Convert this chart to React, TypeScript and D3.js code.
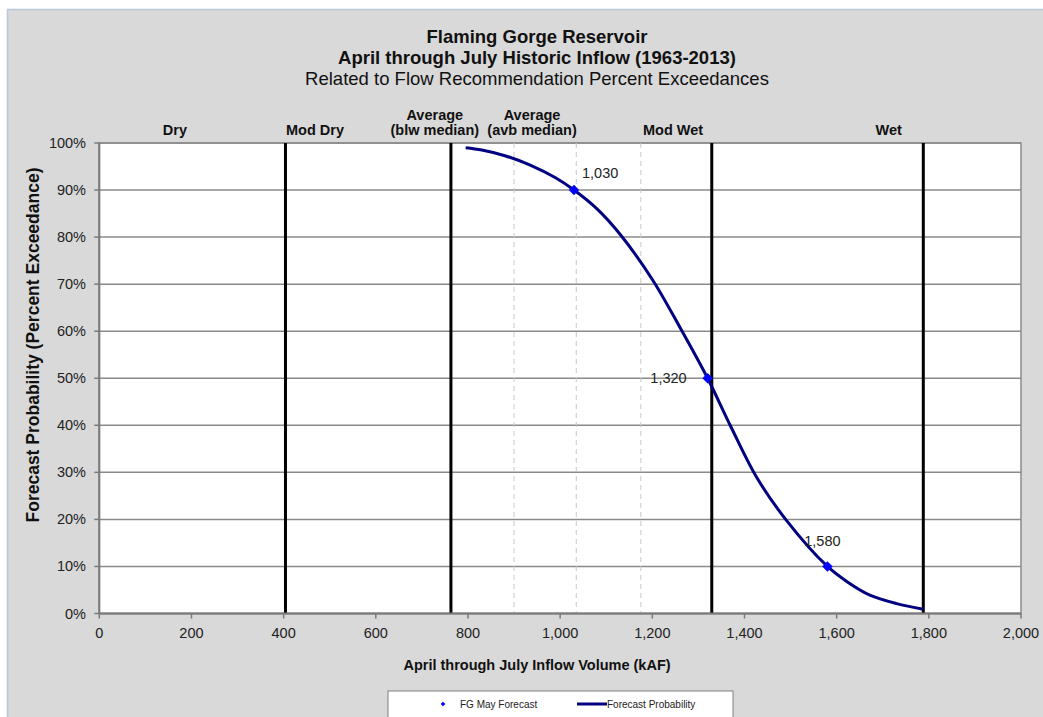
import React from "react";
import * as d3 from "d3";

const volumes = [795, 830, 880, 935, 990, 1030, 1080, 1130, 1200, 1260, 1320, 1370, 1426, 1491, 1580, 1625, 1672, 1730, 1788];
const exceed = [99, 98.5, 97.3, 95.3, 92.6, 90, 86, 80.6, 71, 60.8, 50, 39.8, 29, 19.8, 10, 6.6, 3.9, 2.1, 0.9];

const forecastVol = [1030, 1320, 1580];
const forecastPct = [90, 50, 10];
const forecastLabels = ["1,030", "1,320", "1,580"];

const boundaryVols = [404, 763, 1329, 1788];
const dashedVols = [900, 1035, 1175];

const categoryNames = [["Dry"], ["Mod Dry"], ["Average", "(blw median)"], ["Average", "(avb median)"], ["Mod Wet"], ["Wet"]];
const categoryCenters = [164, 468, 728, 939, 1245, 1713];

const xTicks = [0, 200, 400, 600, 800, 1000, 1200, 1400, 1600, 1800, 2000];
const yTicks = [0, 10, 20, 30, 40, 50, 60, 70, 80, 90, 100];

const titleLines = ["Flaming Gorge Reservoir", "April through July Historic Inflow (1963-2013)"];
const subtitle = "Related to Flow Recommendation Percent Exceedances";
const xTitle = "April through July Inflow Volume (kAF)";
const yTitle = "Forecast Probability (Percent Exceedance)";
const legendItems = ["FG May Forecast", "Forecast Probability"];

const W = 1043, H = 717;
const L = 99.3, R = 1021, T = 143, B = 613.5;
const FONT = "'Liberation Sans', Arial, sans-serif";

export default function App() {
  const x = d3.scaleLinear().domain([0, 2000]).range([L, R]);
  const y = d3.scaleLinear().domain([0, 100]).range([B, T]);
  const pts = volumes.map((v, i) => [v, exceed[i]] as [number, number]);
  const line = d3.line<[number, number]>().x(d => x(d[0])).y(d => y(d[1])).curve(d3.curveCatmullRom.alpha(0.5));
  const diamond = d3.symbol().type(d3.symbolDiamond2).size(70)() as string;
  const diamondSmall = d3.symbol().type(d3.symbolDiamond2).size(14)() as string;

  const labelPos = [
    { dx: 8, dy: -12, anchor: "start" },
    { dx: -21, dy: 5, anchor: "end" },
    { dx: -5, dy: -20, anchor: "middle" },
  ];

  return (
    <svg width={W} height={H} style={{ position: "absolute", left: 0, top: 0 }} fontFamily={FONT}>
      <rect x={0} y={0} width={W} height={H} fill="#ffffff" />
      <rect x={7} y={9} width={W - 7} height={H - 9} fill="#d9d9d9" />
      <line x1={7} y1={9.5} x2={W} y2={9.5} stroke="#b9c7dc" strokeWidth={1.5} />
      <line x1={7.5} y1={9} x2={7.5} y2={H} stroke="#b9c7dc" strokeWidth={1.5} />

      {/* titles */}
      <text x={537} y={43} textAnchor="middle" fontSize={18.5} fontWeight="bold" fill="#111">{titleLines[0]}</text>
      <text x={537} y={64} textAnchor="middle" fontSize={18.5} fontWeight="bold" fill="#111">{titleLines[1]}</text>
      <text x={537} y={85} textAnchor="middle" fontSize={18.5} fill="#111">{subtitle}</text>

      {/* plot area */}
      <rect x={L} y={T} width={R - L} height={B - T} fill="#ffffff" stroke="#8a8a8a" strokeWidth={1.5} />
      {yTicks.map(t => (
        <line key={"g" + t} x1={L} x2={R} y1={y(t)} y2={y(t)} stroke="#8a8a8a" strokeWidth={1.5} />
      ))}
      {dashedVols.map(v => (
        <line key={"d" + v} x1={x(v)} x2={x(v)} y1={T} y2={B} stroke="#c8c8c8" strokeWidth={1} strokeDasharray="5,4" />
      ))}
      {boundaryVols.map(v => (
        <line key={"b" + v} x1={x(v)} x2={x(v)} y1={T} y2={B} stroke="#000" strokeWidth={3} />
      ))}

      {/* axes */}
      <line x1={L} x2={L} y1={T} y2={B} stroke="#7a7a7a" strokeWidth={2} />
      <line x1={L} x2={R} y1={B} y2={B} stroke="#7a7a7a" strokeWidth={2} />
      {yTicks.map(t => (
        <g key={"yt" + t}>
          <line x1={L - 5} x2={L} y1={y(t)} y2={y(t)} stroke="#7a7a7a" strokeWidth={1.5} />
          <text x={86} y={y(t) + 5} textAnchor="end" fontSize={14.5} fill="#222">{t + "%"}</text>
        </g>
      ))}
      {xTicks.map(t => (
        <g key={"xt" + t}>
          <line x1={x(t)} x2={x(t)} y1={B} y2={B + 5} stroke="#7a7a7a" strokeWidth={1.5} />
          <text x={x(t)} y={638} textAnchor="middle" fontSize={14.5} fill="#222">{d3.format(",")(t)}</text>
        </g>
      ))}

      {/* category labels */}
      {categoryNames.map((lines, i) => (
        <text key={"c" + i} x={x(categoryCenters[i])} textAnchor="middle" fontSize={14.5} fontWeight="bold" fill="#111">
          {lines.map((s, j) => (
            <tspan key={j} x={x(categoryCenters[i])} y={135 - (lines.length - 1 - j) * 15}>{s}</tspan>
          ))}
        </text>
      ))}

      {/* curve */}
      <path d={line(pts) as string} fill="none" stroke="#000080" strokeWidth={3} />

      {/* forecast points */}
      {forecastVol.map((v, i) => (
        <g key={"f" + i}>
          <path d={diamond} transform={`translate(${x(v)},${y(forecastPct[i])})`} fill="#0000ff" />
          <text x={x(v) + labelPos[i].dx} y={y(forecastPct[i]) + labelPos[i].dy} textAnchor={labelPos[i].anchor} fontSize={14.5} fill="#222">{forecastLabels[i]}</text>
        </g>
      ))}

      {/* axis titles */}
      <text x={537} y={670} textAnchor="middle" fontSize={14.5} fontWeight="bold" fill="#111">{xTitle}</text>
      <text transform={`translate(39,345) rotate(-90)`} textAnchor="middle" fontSize={17.5} fontWeight="bold" fill="#111">{yTitle}</text>

      {/* legend */}
      <rect x={388} y={691} width={345} height={40} fill="#ffffff" stroke="#808080" strokeWidth={1} />
      <path d={diamondSmall} transform="translate(443,704)" fill="#0000ff" />
      <text x={460} y={707.5} fontSize={10} fill="#222">{legendItems[0]}</text>
      <line x1={577} x2={607} y1={704} y2={704} stroke="#000080" strokeWidth={3} />
      <text x={607} y={707.5} fontSize={10} fill="#222">{legendItems[1]}</text>
    </svg>
  );
}
